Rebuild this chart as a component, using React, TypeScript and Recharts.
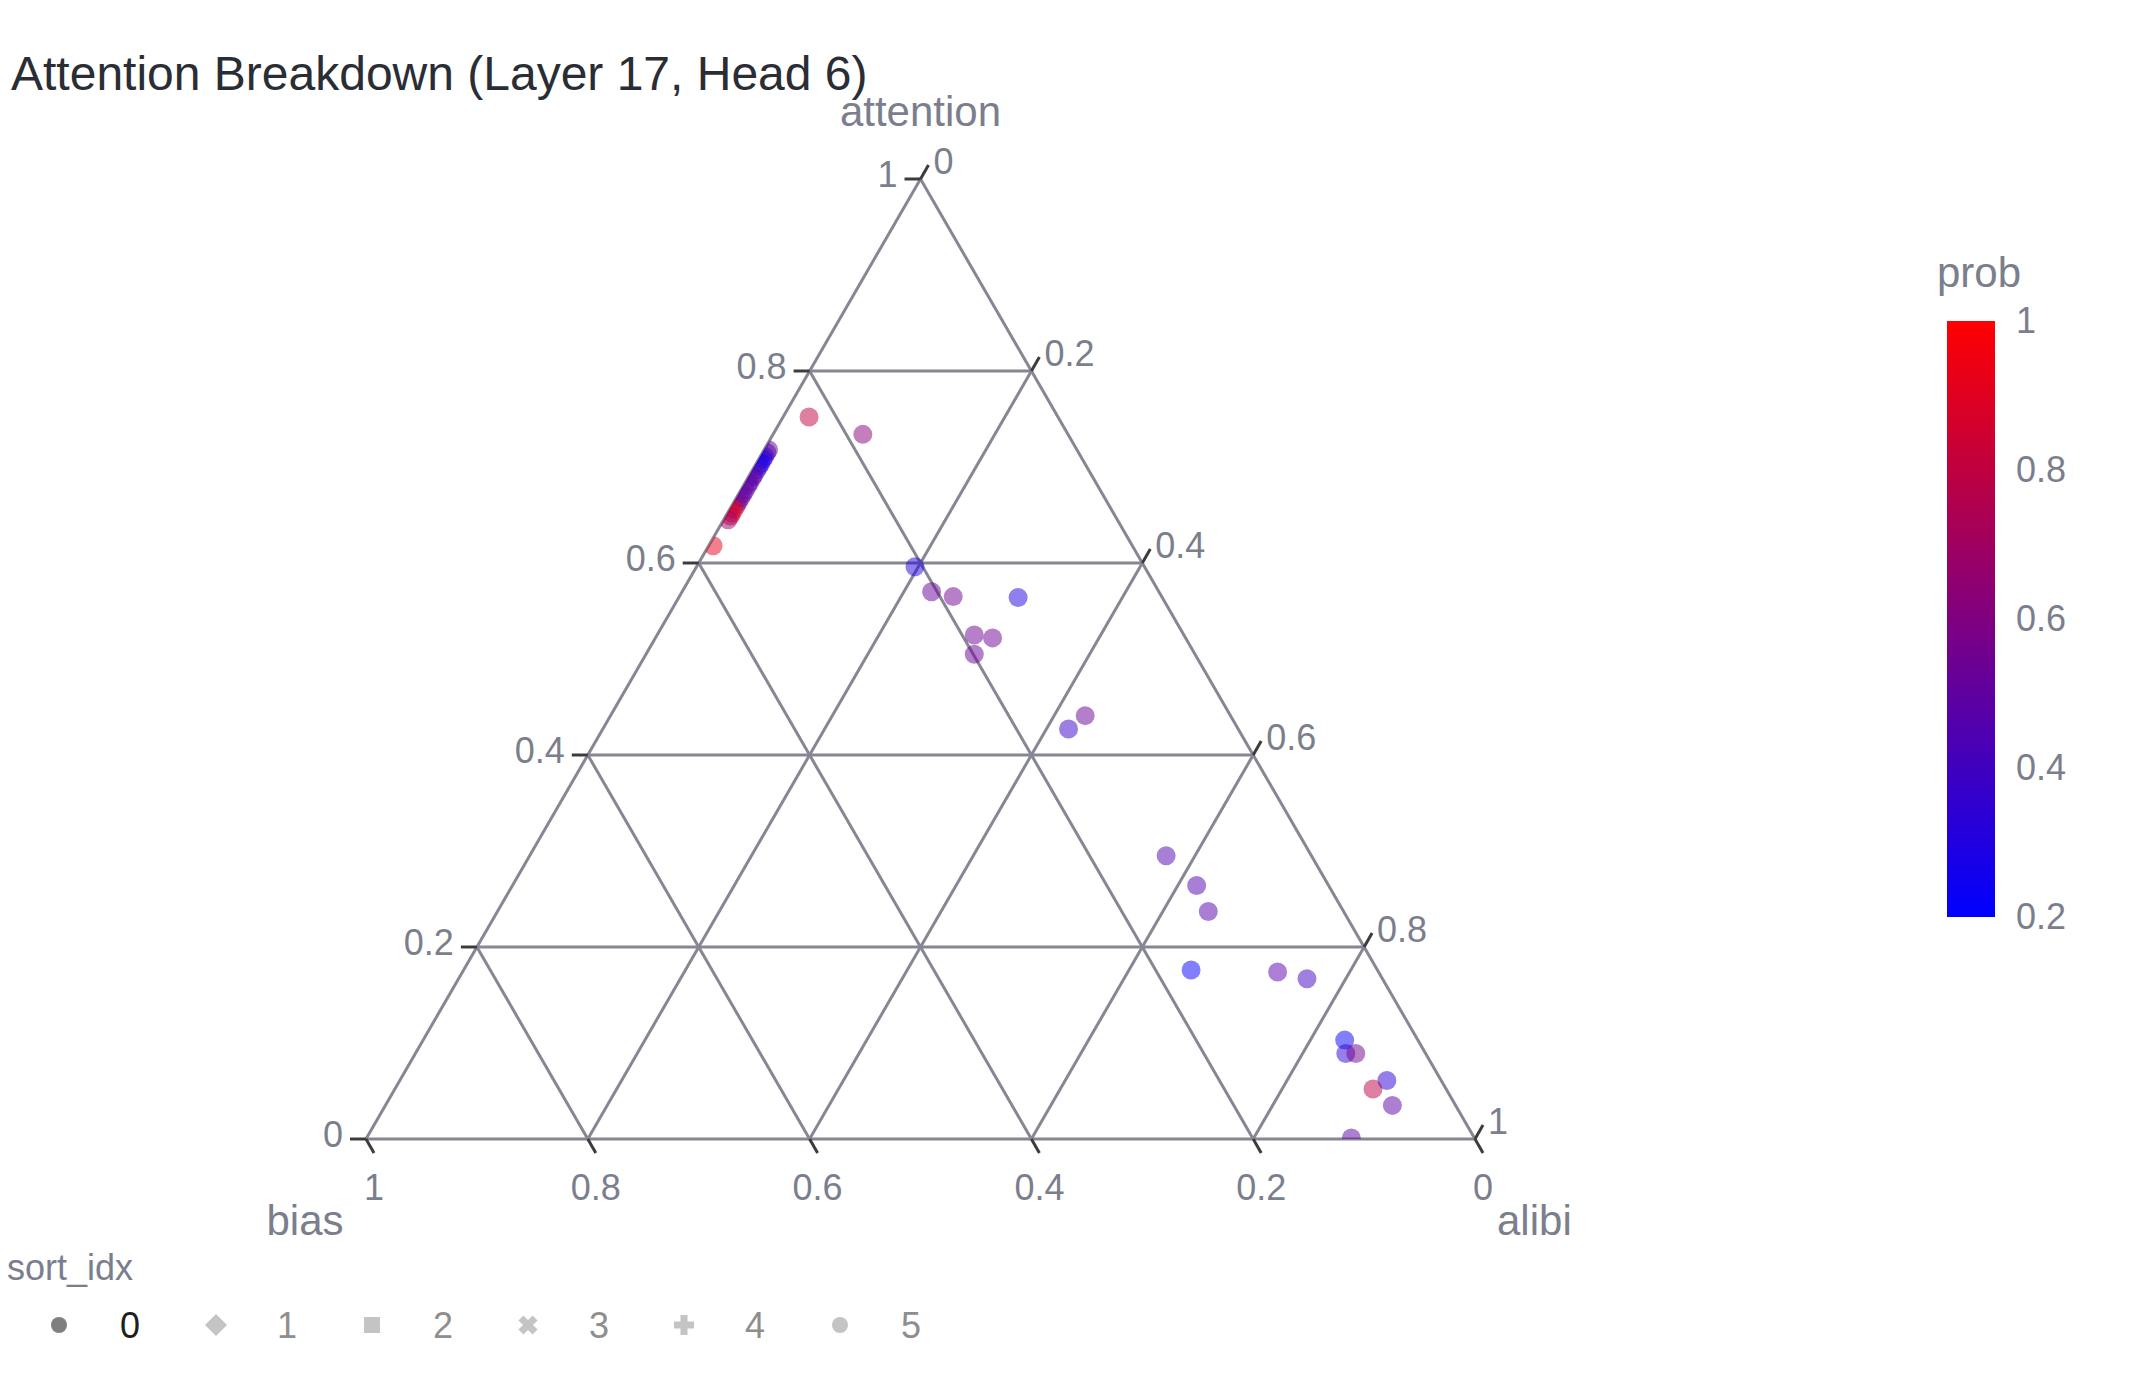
import React from 'react';
import { ScatterChart, Scatter, XAxis, YAxis, ReferenceLine, ReferenceDot } from 'recharts';

const FONT = '"Liberation Sans", Arial, Helvetica, sans-serif';
const TEXT = '#7b7e8c';
const GRID = '#868793';
const TICK = '#3c3c3c';

// ternary components of each point (sort_idx 0)
const attention = [
  0.752, 0.734, 0.618,
  0.718, 0.715, 0.711, 0.708, 0.704, 0.701, 0.697, 0.692, 0.689, 0.684, 0.681, 0.676, 0.672, 0.668, 0.664, 0.66, 0.656, 0.652, 0.649, 0.645,
  0.596, 0.57, 0.565, 0.564, 0.525, 0.522, 0.505, 0.441, 0.427,
  0.295, 0.264, 0.237, 0.176, 0.174, 0.167, 0.103, 0.089, 0.089, 0.061, 0.052, 0.035, 0.001,
];
const bias = [
  0.2245, 0.185, 0.378,
  0.278, 0.281, 0.285, 0.288, 0.292, 0.295, 0.299, 0.304, 0.307, 0.312, 0.315, 0.32, 0.324, 0.328, 0.332, 0.336, 0.34, 0.344, 0.347, 0.351,
  0.207, 0.205, 0.188, 0.13, 0.189, 0.174, 0.199, 0.131, 0.153,
  0.131, 0.119, 0.122, 0.168, 0.091, 0.068, 0.066, 0.072, 0.063, 0.049, 0.066, 0.057, 0.111,
];
const alibi = [
  0.0235, 0.081, 0.004,
  0.004, 0.004, 0.004, 0.004, 0.004, 0.004, 0.004, 0.004, 0.004, 0.004, 0.004, 0.004, 0.004, 0.004, 0.004, 0.004, 0.004, 0.004, 0.004, 0.004,
  0.197, 0.225, 0.247, 0.306, 0.286, 0.304, 0.296, 0.428, 0.42,
  0.574, 0.617, 0.641, 0.656, 0.735, 0.765, 0.831, 0.839, 0.848, 0.89, 0.882, 0.908, 0.888,
];
const prob = [
  0.8, 0.62, 0.92,
  0.5, 0.47, 0.4, 0.3, 0.26, 0.3, 0.38, 0.45, 0.48, 0.5, 0.46, 0.5, 0.52, 0.48, 0.55, 0.6, 0.86, 0.93, 0.8, 0.7,
  0.3, 0.53, 0.55, 0.3, 0.55, 0.54, 0.53, 0.53, 0.38,
  0.45, 0.45, 0.46, 0.22, 0.47, 0.4, 0.22, 0.35, 0.56, 0.33, 0.78, 0.48, 0.48,
];

const axisTicks = [0, 0.2, 0.4, 0.6, 0.8, 1];
const axisTickLabels = ['0', '0.2', '0.4', '0.6', '0.8', '1'];
const gridLevels = [0.2, 0.4, 0.6, 0.8];
const colorbarTicks = [0.2, 0.4, 0.6, 0.8, 1];
const legendKeys = ['0', '1', '2', '3', '4', '5'];
const legendShapes = ['circle', 'diamond', 'square', 'x', 'cross', 'circle'];

// ternary -> cartesian (bias at left corner, alibi at right corner, attention on top)
function toXY(a: number, b: number, c: number) {
  const s = a + b + c;
  return { x: (c + a / 2) / s, y: a / s };
}

function probColor(p: number) {
  const t = Math.min(1, Math.max(0, (p - 0.2) / 0.8));
  return `rgb(${Math.round(255 * t)},0,${Math.round(255 * (1 - t))})`;
}

const points = attention.map((a, i) => ({ ...toXY(a, bias[i], alibi[i]), prob: prob[i] }));

const edges = [
  [{ x: 0, y: 0 }, { x: 1, y: 0 }],
  [{ x: 0, y: 0 }, { x: 0.5, y: 1 }],
  [{ x: 1, y: 0 }, { x: 0.5, y: 1 }],
];
const gridSegments = gridLevels.flatMap((k) => [
  [{ x: k / 2, y: k }, { x: 1 - k / 2, y: k }],
  [{ x: k, y: 0 }, { x: (1 + k) / 2, y: 1 - k }],
  [{ x: 1 - k, y: 0 }, { x: (1 - k) / 2, y: 1 - k }],
]);

const W = 2142;
const H = 1380;
const M = { top: 179, right: 667, bottom: 241, left: 366 };
// plot area corners, markers are clipped to the triangle like plotly's cliponaxis
const TRI = [
  [M.left, H - M.bottom],
  [W - M.right, H - M.bottom],
  [(M.left + W - M.right) / 2, M.top],
];

const textStyle = { fontFamily: FONT, fill: TEXT };

function attTick(label: string) {
  return (p: any) => (
    <g>
      <line x1={p.cx} y1={p.cy} x2={p.cx - 16} y2={p.cy} stroke={TICK} strokeWidth={3} />
      <text x={p.cx - 23} y={p.cy + 8} textAnchor="end" fontSize={36} style={textStyle}>{label}</text>
    </g>
  );
}
function biasTick(label: string) {
  return (p: any) => (
    <g>
      <line x1={p.cx} y1={p.cy} x2={p.cx + 8} y2={p.cy + 14} stroke={TICK} strokeWidth={3} />
      <text x={p.cx + 8} y={p.cy + 61} textAnchor="middle" fontSize={36} style={textStyle}>{label}</text>
    </g>
  );
}
function alibiTick(label: string) {
  return (p: any) => (
    <g>
      <line x1={p.cx} y1={p.cy} x2={p.cx + 8} y2={p.cy - 14} stroke={TICK} strokeWidth={3} />
      <text x={p.cx + 13} y={p.cy - 5} textAnchor="start" fontSize={36} style={textStyle}>{label}</text>
    </g>
  );
}
function axisTitle(label: string, dx: number, dy: number, anchor: string) {
  return (p: any) => (
    <text x={p.cx + dx} y={p.cy + dy} textAnchor={anchor} fontSize={42} style={textStyle}>{label}</text>
  );
}

const Dot = (p: any) => (
  <circle cx={p.cx} cy={p.cy} r={9.5} fill={probColor(p.payload.prob)} fillOpacity={0.5} clipPath="url(#triClip)" />
);

const CB = { x: 1947, top: 321, bottom: 917, w: 48 };
const legendX = [59, 216, 372, 528, 684, 840];

function LegendSymbol({ shape, cx, cy, fill }: any) {
  if (shape === 'circle') return <circle cx={cx} cy={cy} r={8} fill={fill} />;
  if (shape === 'square') return <rect x={cx - 8} y={cy - 8} width={16} height={16} fill={fill} />;
  if (shape === 'diamond') {
    return <path d={`M${cx},${cy - 11}L${cx + 11},${cy}L${cx},${cy + 11}L${cx - 11},${cy}Z`} fill={fill} />;
  }
  const arm = 'M-3.5,-10H3.5V-3.5H10V3.5H3.5V10H-3.5V3.5H-10V-3.5H-3.5Z';
  const rot = shape === 'x' ? 45 : 0;
  return <path d={arm} transform={`translate(${cx} ${cy}) rotate(${rot})`} fill={fill} />;
}

export default function App() {
  return (
    <div style={{ position: 'absolute', left: 0, top: 0, width: W, height: H, background: '#fff' }}>
      <svg width={0} height={0} style={{ position: 'absolute' }}>
        <defs>
          <clipPath id="triClip" clipPathUnits="userSpaceOnUse">
            <polygon points={TRI.map((p) => p.join(',')).join(' ')} />
          </clipPath>
        </defs>
      </svg>
      <ScatterChart width={W} height={H} margin={M}>
        <XAxis type="number" dataKey="x" domain={[0, 1]} allowDataOverflow hide />
        <YAxis type="number" dataKey="y" domain={[0, 1]} allowDataOverflow hide />
        {gridSegments.map((s, i) => (
          <ReferenceLine key={`g${i}`} segment={s} stroke={GRID} strokeWidth={3} ifOverflow="visible" />
        ))}
        {edges.map((s, i) => (
          <ReferenceLine key={`e${i}`} segment={s} stroke={GRID} strokeWidth={3} ifOverflow="visible" />
        ))}
        {axisTicks.map((t, i) => (
          <ReferenceDot key={`a${i}`} x={t / 2} y={t} r={0} ifOverflow="visible" shape={attTick(axisTickLabels[i])} />
        ))}
        {axisTicks.map((t, i) => (
          <ReferenceDot key={`b${i}`} x={1 - t} y={0} r={0} ifOverflow="visible" shape={biasTick(axisTickLabels[i])} />
        ))}
        {axisTicks.map((t, i) => (
          <ReferenceDot key={`c${i}`} x={(1 + t) / 2} y={1 - t} r={0} ifOverflow="visible" shape={alibiTick(axisTickLabels[i])} />
        ))}
        <ReferenceDot x={0.5} y={1} r={0} ifOverflow="visible" shape={axisTitle('attention', 0, -53, 'middle')} />
        <ReferenceDot x={0} y={0} r={0} ifOverflow="visible" shape={axisTitle('bias', -61, 96, 'middle')} />
        <ReferenceDot x={1} y={0} r={0} ifOverflow="visible" shape={axisTitle('alibi', 22, 96, 'start')} />
        <Scatter data={points} shape={Dot} isAnimationActive={false} />
      </ScatterChart>

      <svg width={W} height={H} style={{ position: 'absolute', left: 0, top: 0, pointerEvents: 'none' }}>
        <defs>
          <linearGradient id="cb" x1="0" y1="1" x2="0" y2="0">
            <stop offset="0%" stopColor="#0000ff" />
            <stop offset="100%" stopColor="#ff0000" />
          </linearGradient>
        </defs>
        <text x={11} y={90} fontSize={48} fontFamily={FONT} fill="#2a2d34">Attention Breakdown (Layer 17, Head 6)</text>

        <text x={1937} y={287} fontSize={42} fontFamily={FONT} fill={TEXT}>prob</text>
        <rect x={CB.x} y={CB.top} width={CB.w} height={CB.bottom - CB.top} fill="url(#cb)" />
        {colorbarTicks.map((v) => (
          <text key={v} x={2016} y={CB.bottom - ((v - 0.2) / 0.8) * (CB.bottom - CB.top) + 12} fontSize={36} fontFamily={FONT} fill={TEXT}>
            {String(v)}
          </text>
        ))}

        <text x={7} y={1280} fontSize={36} fontFamily={FONT} fill={TEXT}>sort_idx</text>
        {legendKeys.map((k, i) => (
          <g key={k}>
            <LegendSymbol shape={legendShapes[i]} cx={legendX[i]} cy={1325} fill={i === 0 ? '#7f7f7f' : '#c4c4c4'} />
            <text x={legendX[i] + 61} y={1338} fontSize={36} fontFamily={FONT} fill={i === 0 ? '#1e1e1e' : '#8e8e8e'}>{k}</text>
          </g>
        ))}
      </svg>
    </div>
  );
}
